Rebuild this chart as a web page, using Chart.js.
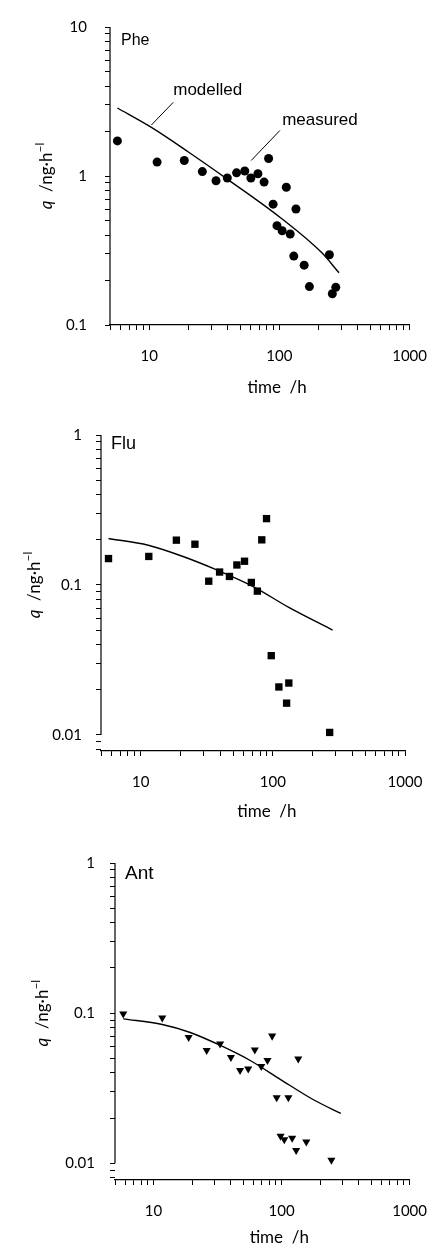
<!DOCTYPE html>
<html>
<head>
<meta charset="utf-8">
<script src="https://cdn.jsdelivr.net/npm/chart.js@4/dist/chart.umd.min.js"></script>
<style>
  body { margin: 0; background: #fff; }
  #wrap { position: relative; width: 444px; height: 1253px; }
  canvas { position: absolute; left: 0; }
</style>
</head>
<body>
<div id="wrap">
  <canvas id="phe" width="444" height="410" style="top:0px"></canvas>
  <canvas id="flu" width="444" height="420" style="top:410px"></canvas>
  <canvas id="ant" width="444" height="423" style="top:830px"></canvas>
</div>
<script>
// Tick labels
const timeTicks = [10, 100, 1000];
const pheTicks = [0.1, 1, 10];
const fluTicks = [0.01, 0.1, 1];
const antTicks = [0.01, 0.1, 1];

// Phe - measured (circles) and modelled
const pheTime = [5.7, 11.5, 18.6, 25.6, 32.6, 39.8, 46.9, 54.2, 60.4, 68.4, 76.3, 82.6, 89.5, 95.8, 105, 113, 121, 129, 134, 155, 170, 242, 255, 271];
const pheQ = [1.72, 1.24, 1.27, 1.07, 0.93, 0.97, 1.05, 1.08, 0.97, 1.035, 0.91, 1.31, 0.647, 0.464, 0.429, 0.84, 0.408, 0.29, 0.60, 0.252, 0.181, 0.296, 0.162, 0.179];
const pheModelTime = [5.7, 10.4, 20, 40, 102, 212, 287];
const pheModelQ = [2.86, 2.12, 1.45, 0.95, 0.525, 0.305, 0.224];

// Flu - measured (squares) and modelled
const fluTime = [5.7, 11.5, 18.6, 25.7, 32.7, 39.5, 46.9, 53.4, 61, 68.7, 76.3, 82.4, 89.5, 97.2, 111, 132, 127, 269];
const fluQ = [0.150, 0.155, 0.199, 0.187, 0.106, 0.122, 0.114, 0.136, 0.144, 0.104, 0.091, 0.2, 0.277, 0.0338, 0.0209, 0.0222, 0.0163, 0.0104];
const fluModelTime = [5.7, 11.4, 20.4, 36.8, 70.4, 133, 283];
const fluModelQ = [0.204, 0.184, 0.156, 0.127, 0.098, 0.0706, 0.0501];

// Ant - measured (triangles) and modelled
const antTime = [5.8, 11.7, 18.8, 26, 33.1, 40.2, 47.4, 54.9, 61.8, 69.4, 77.6, 84.4, 91.6, 98.2, 105, 113, 121, 130, 135, 156, 245];
const antQ = [0.099, 0.093, 0.069, 0.0565, 0.0625, 0.0508, 0.0416, 0.0426, 0.057, 0.0443, 0.0485, 0.0705, 0.0274, 0.0152, 0.0144, 0.0274, 0.0147, 0.0122, 0.0497, 0.0139, 0.0105];
const antModelTime = [5.8, 11.7, 19.1, 33.6, 57.3, 97, 179, 290];
const antModelQ = [0.0916, 0.084, 0.0746, 0.0607, 0.0482, 0.0364, 0.0264, 0.0215];

const tickFont = { family: 'Lato', size: 15 };

// minor ticks 1..9 per decade inside the axis range
function decadeTicks(scale) {
    const out = [];
    for (let e = Math.floor(Math.log10(scale.min)); e <= Math.ceil(Math.log10(scale.max)); e++) {
        for (let m = 1; m <= 9; m++) {
            const v = +(m * Math.pow(10, e)).toPrecision(6);
            if (v >= scale.min * 0.999 && v <= scale.max * 1.001) out.push({ value: v, major: m === 1 });
        }
    }
    scale.ticks = out;
}

function tickLabel(list) {
    return function (v) {
        const t = list.find(t => Math.abs(t - v) / t < 1e-6);
        return t === undefined ? '' : String(t);
    };
}

function toPoints(xs, ys) {
    return xs.map((x, i) => ({ x: x, y: ys[i] }));
}

// axis line, titles, panel name and notes
const panelDecor = {
    id: 'panelDecor',
    afterDraw(chart, args, opts) {
        const ctx = chart.ctx;
        const xs = chart.scales.x, ys = chart.scales.y;
        const area = chart.chartArea;
        ctx.save();
        ctx.strokeStyle = '#000';
        ctx.fillStyle = '#000';

        // y axis line
        ctx.lineWidth = 1.2;
        ctx.beginPath();
        ctx.moveTo(area.left, ys.getPixelForValue(opts.yTop));
        ctx.lineTo(area.left, ys.getPixelForValue(opts.yBottom));
        ctx.stroke();

        // y title: q /ng·h^-1
        ctx.save();
        ctx.translate(opts.yTitleX, (ys.getPixelForValue(opts.yTop) + ys.getPixelForValue(opts.yBottom)) / 2);
        ctx.rotate(-Math.PI / 2);
        const parts = [
            { t: 'q', f: 'italic 17px Lato', dy: 0 },
            { t: '  /ng\u00b7h', f: '17px Lato', dy: 0 },
            { t: '\u2212l', f: '12px Lato', dy: -8 }
        ];
        let w = 0;
        parts.forEach(p => { ctx.font = p.f; p.w = ctx.measureText(p.t).width; w += p.w; });
        let cx = -w / 2;
        ctx.textBaseline = 'alphabetic';
        parts.forEach(p => { ctx.font = p.f; ctx.fillText(p.t, cx, p.dy); cx += p.w; });
        ctx.restore();

        // x title
        ctx.font = '17px Lato';
        ctx.textAlign = 'center';
        ctx.textBaseline = 'alphabetic';
        ctx.fillText('time  /h', xs.getPixelForValue(opts.xTitleAt), area.bottom + opts.xTitleDy);

        // panel name
        ctx.font = opts.nameFont;
        ctx.textAlign = 'left';
        ctx.fillText(opts.name, area.left + opts.nameDx, area.top + opts.nameDy);

        // notes with leader lines
        ctx.font = '17px "Liberation Sans", Arial, sans-serif';
        ctx.lineWidth = 1;
        (opts.notes || []).forEach(n => {
            ctx.beginPath();
            ctx.moveTo(xs.getPixelForValue(n.from[0]), ys.getPixelForValue(n.from[1]));
            ctx.lineTo(xs.getPixelForValue(n.to[0]), ys.getPixelForValue(n.to[1]));
            ctx.stroke();
            ctx.fillText(n.text, xs.getPixelForValue(n.at[0]), ys.getPixelForValue(n.at[1]));
        });
        ctx.restore();
    }
};

function makePanel(id, p) {
    new Chart(document.getElementById(id), {
        type: 'scatter',
        data: {
            datasets: [
                {
                    type: 'line',
                    data: toPoints(p.modelTime, p.modelQ),
                    borderColor: '#000',
                    borderWidth: 1.4,
                    pointRadius: 0,
                    cubicInterpolationMode: 'monotone',
                    fill: false
                },
                {
                    data: toPoints(p.time, p.q),
                    pointStyle: p.marker,
                    rotation: p.rotation || 0,
                    pointRadius: p.radius,
                    backgroundColor: '#000',
                    borderColor: '#000',
                    borderWidth: 0
                }
            ]
        },
        options: {
            responsive: false,
            animation: false,
            layout: { autoPadding: false, padding: { top: p.padTop, right: p.padRight, left: 0, bottom: 0 } },
            plugins: {
                legend: { display: false },
                tooltip: { enabled: false },
                panelDecor: p.decor
            },
            scales: {
                x: {
                    type: 'logarithmic',
                    min: 5,
                    max: 1000,
                    afterBuildTicks: decadeTicks,
                    afterFit: s => { s.height = p.xHeight; },
                    border: { display: true, color: '#000', width: 1.2 },
                    grid: { drawOnChartArea: false, tickLength: 5, color: '#000', lineWidth: 1 },
                    ticks: { callback: tickLabel(timeTicks), autoSkip: false, maxRotation: 0, color: '#000', font: tickFont, padding: 17 }
                },
                y: {
                    type: 'logarithmic',
                    min: p.yMin,
                    max: p.yMax,
                    afterBuildTicks: decadeTicks,
                    afterFit: s => { s.width = p.yWidth; },
                    border: { display: false },
                    grid: { drawOnChartArea: false, tickLength: 5, color: '#000', lineWidth: 1 },
                    ticks: { callback: tickLabel(p.yTicks), autoSkip: false, color: '#000', font: tickFont, padding: p.yPad }
                }
            }
        },
        plugins: [panelDecor]
    });
}

makePanel('phe', {
    time: pheTime, q: pheQ, modelTime: pheModelTime, modelQ: pheModelQ,
    marker: 'circle', radius: 4.5,
    yTicks: pheTicks, yMin: 0.1, yMax: 10,
    padTop: 16, padRight: 22, yWidth: 110, xHeight: 85, yPad: 18,
    decor: {
        yTop: 10, yBottom: 0.1, yTitleX: 52, xTitleAt: 96, xTitleDy: 68,
        name: 'Phe', nameFont: '16px "Liberation Sans", Arial, sans-serif', nameDx: 11, nameDy: 18,
        notes: [
            { text: 'modelled', from: [10.4, 2.2], to: [15.3, 3.12], at: [15.3, 3.48] },
            { text: 'measured', from: [60.7, 1.27], to: [100.8, 2.02], at: [105, 2.21] }
        ]
    }
});

makePanel('flu', {
    time: fluTime, q: fluQ, modelTime: fluModelTime, modelQ: fluModelQ,
    marker: 'rect', radius: 5.2,
    yTicks: fluTicks, yMin: 0.00782, yMax: 1,
    padTop: 25, padRight: 39, yWidth: 101, xHeight: 79, yPad: 14,
    decor: {
        yTop: 1, yBottom: 0.01, yTitleX: 40, xTitleAt: 90, xTitleDy: 66,
        name: 'Flu', nameFont: '18px "Liberation Sans", Arial, sans-serif', nameDx: 10, nameDy: 14
    }
});

makePanel('ant', {
    time: antTime, q: antQ, modelTime: antModelTime, modelQ: antModelQ,
    marker: 'triangle', rotation: 180, radius: 4.7,
    yTicks: antTicks, yMin: 0.00774, yMax: 1,
    padTop: 33, padRight: 27, yWidth: 115, xHeight: 73, yPad: 15,
    decor: {
        yTop: 1, yBottom: 0.01, yTitleX: 48, xTitleAt: 96, xTitleDy: 63,
        name: 'Ant', nameFont: '19px "Liberation Sans", Arial, sans-serif', nameDx: 10, nameDy: 16
    }
});
</script>
</body>
</html>
